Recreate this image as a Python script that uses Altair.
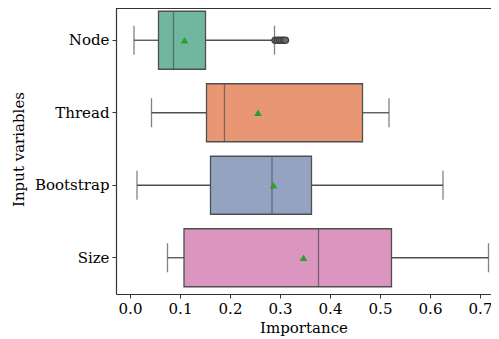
import altair as alt
import pandas as pd

categories = ["Node", "Thread", "Bootstrap", "Size"]
whisk_low = [0.008, 0.043, 0.014, 0.075]
q1 = [0.057, 0.153, 0.161, 0.108]
median = [0.087, 0.189, 0.284, 0.377]
q3 = [0.151, 0.465, 0.363, 0.523]
whisk_high = [0.289, 0.518, 0.626, 0.717]
means = [0.109, 0.256, 0.287, 0.347]
outlier_cat = ["Node", "Node", "Node", "Node", "Node", "Node"]
outlier_val = [0.290, 0.295, 0.299, 0.303, 0.307, 0.311]
colors = ["#71b7a0", "#e99675", "#95a3c3", "#db96c0"]
x_ticks = [0.0, 0.1, 0.2, 0.3, 0.4, 0.5, 0.6, 0.7]

df = pd.DataFrame({
    "cat": categories, "lo": whisk_low, "q1": q1, "med": median,
    "q3": q3, "hi": whisk_high, "mean": means,
})
out_df = pd.DataFrame({"cat": outlier_cat, "val": outlier_val})

FONT = "DejaVu Serif"
LINE = "#4f4f4f"
xscale = alt.Scale(domain=[-0.028, 0.722], nice=False, zero=False)
yscale = alt.Scale(domain=categories, range=[-4, 286], paddingInner=0.2, paddingOuter=0.1)

y = alt.Y("cat:N", scale=yscale, sort=categories, title="Input variables")
xaxis = alt.Axis(values=x_ticks, format=".1f", title="Importance")

base = alt.Chart(df)

whisk_l = base.mark_rule(color=LINE, strokeWidth=1.3).encode(
    x=alt.X("lo:Q", scale=xscale, axis=xaxis), x2="q1:Q", y=y)
whisk_h = base.mark_rule(color=LINE, strokeWidth=1.3).encode(
    x=alt.X("q3:Q", scale=xscale), x2="hi:Q", y=y)
box = base.mark_bar(size=58, stroke=LINE, strokeWidth=1.3).encode(
    x=alt.X("q1:Q", scale=xscale), x2="q3:Q", y=y,
    color=alt.Color("cat:N", scale=alt.Scale(domain=categories, range=colors), legend=None))
med = base.mark_tick(color=LINE, size=58, thickness=1.3, orient="vertical").encode(
    x=alt.X("med:Q", scale=xscale), y=y)
cap_l = base.mark_tick(color=LINE, size=29, thickness=1.3, orient="vertical").encode(
    x=alt.X("lo:Q", scale=xscale), y=y)
cap_h = base.mark_tick(color=LINE, size=29, thickness=1.3, orient="vertical").encode(
    x=alt.X("hi:Q", scale=xscale), y=y)
outl = alt.Chart(out_df).mark_point(shape="circle", filled=True, fill="#6a6a6a", stroke="#404040",
                                    size=40, strokeWidth=1.2, opacity=1).encode(
    x=alt.X("val:Q", scale=xscale), y=alt.Y("cat:N", scale=yscale, sort=categories))
mean_m = base.mark_point(shape="triangle-up", filled=True, color="#2ca02c", size=60, opacity=1).encode(
    x=alt.X("mean:Q", scale=xscale), y=y)
top_line = base.mark_rule(color="#333333", strokeWidth=1.2).encode(
    x=alt.value(0), x2=alt.value(375), y=alt.value(0.5))

chart = alt.layer(whisk_l, whisk_h, box, med, cap_l, cap_h, outl, mean_m, top_line).properties(
    width=375, height=286,
    autosize=alt.AutoSizeParams(type="none"),
    padding={"left": 108, "top": 0, "right": 0, "bottom": 45},
).configure_view(strokeWidth=0).configure_axis(
    labelFont=FONT, titleFont=FONT, labelFontSize=15, titleFontSize=15,
    labelColor="black", titleColor="black", titleFontWeight="normal",
    domainColor="#333333", domainWidth=1.2, tickColor="#333333", tickSize=4, grid=False,
    labelPadding=3,
).configure_axisY(titlePadding=8).configure_axisX(titlePadding=4)

chart.save("out.html", embed_options={"renderer": "svg", "actions": False})
